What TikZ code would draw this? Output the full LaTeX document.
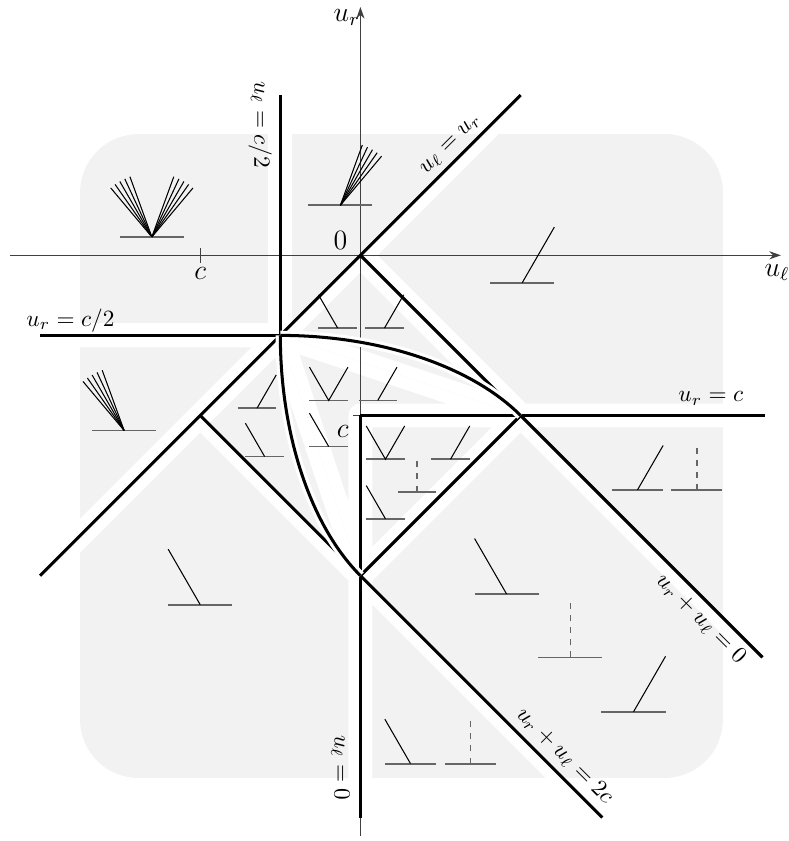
\documentclass[tikz,border=0pt]{standalone}
\usetikzlibrary{arrows.meta}
\newcommand\zone[1]{\begin{scope}\clip #1 -- cycle; \fill[gray!10] (-6,-10) rectangle (7,4); \draw[white, line width=10.3pt, line join=round] #1 -- cycle;\end{scope}}
\begin{document}
\begin{tikzpicture}[x=34.4pt,y=34.4pt,
  axisline/.style={black!75, line width=0.5pt},
  wall/.style={black, line width=1.3pt},
  casing/.style={white, line width=4pt},
  baseL/.style={black!60, line width=0.8pt},
  strk/.style={black, line width=0.45pt},
  dsh/.style={black!60, line width=0.7pt, dash pattern=on 2.6pt off 2.6pt},
  lbl/.style={inner sep=1pt},
  pics/shock/.style={code={\draw[baseL] (-0.4,0)--(0.4,0); \draw[strk] (0,0)--++(#1:0.8);}},
  pics/fan/.style={code={\draw[baseL] (-0.4,0)--(0.4,0); \foreach \a in {0,5,...,20}{\draw[strk] (0,0)--++(#1+\a:0.8);}}},
  pics/contact/.style={code={\draw[baseL] (-0.4,0)--(0.4,0); \draw[dsh] (0,0)--(0,0.75);}},
  pics/vee/.style={code={\draw[baseL] (-0.4,0)--(0.4,0); \draw[strk] (120:0.8)--(0,0)--(60:0.8);}}
]
\useasboundingbox (-4.5,-7.3125) rectangle (5.35,3.1875);
% shaded regions, each inset by a white border
\begin{scope}
\clip[rounded corners=25pt] (-3.5,-6.525) rectangle (4.525,1.5125);
\zone{(-1,-1) -- (-1,2) -- (6,2) -- (6,-1)}
\zone{(0,0) -- (2.5,2.5) -- (6,2.5) -- (6,-2) -- (2,-2)}
\zone{(-5,-1) -- (-5,2) -- (-1,2) -- (-1,-1)}
\zone{(-5,-1) -- (-1,-1) -- (-5,-5)}
\zone{(0,0) -- (-1,-1) -- (2,-2)}
\zone{(-1,-1) -- (-2.3,-2.3) -- (-0.3,-4.3) -- (0,-4)}
\zone{(-2,-2) -- (-5,-5) -- (-5,-9) -- (0,-9) -- (0,-4)}
\zone{(-1,-1) -- (2,-2) -- (0,-2) -- (0,-4)}
\zone{(2,-2) -- (6,-2) -- (6,-6.6) -- (1.4,-2)}
\zone{(0,-2) -- (2,-2) -- (0,-4)}
\zone{(0,-4) -- (2,-2) -- (6,-6) -- (6,-9) -- (0,-9)}
\zone{(0,-4) -- (0,-9) -- (5,-9)}
\end{scope}
% axes
\coordinate (xl) at (-4.375,0);
\coordinate (xr) at (5.25,0);
\coordinate (yb) at (0,-7.25);
\coordinate (yt) at (0,3.1);
\draw[axisline, -{Stealth[length=5pt,width=3.5pt]}] (xl) -- (xr);
\draw[axisline, -{Stealth[length=5pt,width=3.5pt]}] (yb) -- (yt);
\node[lbl] (lul) at (5.2,-0.21) {\large $u_\ell$};
\node[lbl] (lur) at (-0.17,2.97) {\large $u_r$};
\node[lbl] (zero) at (-0.25,0.19) {\large $0$};
\draw[axisline] (-2,0.09) -- (-2,-0.09);
\node[lbl] (cx) at (-2,-0.23) {\large $c$};
\draw[axisline] (-0.09,-2) -- (0.09,-2);
\node[lbl] (cy) at (-0.22,-2.2) {\large $c$};
% black lines
\coordinate (O) at (0,0);
\coordinate (A) at (-1,-1);
\coordinate (B) at (2,-2);
\coordinate (C) at (0,-2);
\coordinate (D) at (0,-4);
\coordinate (E) at (-2,-2);
\draw[wall] (-1,2) -- (A);
\draw[wall] (-4,-1) -- (A);
\draw[wall] (-4,-4) -- (2,2);
\draw[wall] (O) -- (5.02,-5.02);
\draw[wall] (C) -- (5.05,-2);
\draw[wall] (C) -- (0,-7.02);
\draw[wall] (E) -- (3.02,-7.02);
\draw[wall] (D) -- (B);
\draw[casing] (A) arc[start angle=90, end angle=30, x radius=3.4641, y radius=2];
\draw[casing] (A) arc[start angle=180, end angle=240, x radius=2, y radius=3.4641];
\draw[wall] (A) arc[start angle=90, end angle=30, x radius=3.4641, y radius=2];
\draw[wall] (A) arc[start angle=180, end angle=240, x radius=2, y radius=3.4641];
% line labels
\node[lbl, rotate=-90] (l1) at (-1.25,1.63) {$u_\ell = c/2$};
\node[lbl] (l2) at (-3.62,-0.81) {$u_r = c/2$};
\node[lbl, rotate=45] (l3) at (1.13,1.38) {$u_\ell = u_r$};
\node[lbl] (l4) at (4.375,-1.79) {$u_r = c$};
\node[lbl, rotate=-45] (l5) at (4.25,-4.54) {$u_r + u_\ell = 0$};
\node[lbl, rotate=-45] (l6) at (2.55,-6.25) {$u_r + u_\ell = 2c$};
\node[lbl, rotate=-90] (l7) at (-0.25,-6.4) {$u_\ell = 0$};
% symbols, large
\pic at (-2.604,0.229) {fan=110};
\pic at (-2.604,0.229) {fan=50};
\pic at (-0.25,0.625) {fan=50};
\pic at (2.021,-0.341) {shock=60};
\pic at (-2.95,-2.1875) {fan=110};
\pic at (-2,-4.3625) {shock=120};
\pic at (1.825,-4.229) {shock=120};
\pic at (2.621,-5.021) {contact};
\pic at (3.409,-5.7) {shock=60};
% medium
\pic[scale=0.8] at (3.459,-2.929) {shock=60};
\pic[scale=0.8] at (4.2,-2.929) {contact};
\pic[scale=0.8] at (0.625,-6.346) {shock=120};
\pic[scale=0.8] at (1.375,-6.346) {contact};
% small
\pic[scale=0.6] at (-0.284,-0.909) {shock=120};
\pic[scale=0.6] at (0.3,-0.909) {shock=60};
\pic[scale=0.6] at (-1.291,-1.909) {shock=60};
\pic[scale=0.6] at (-1.196,-2.5125) {shock=120};
\pic[scale=0.6] at (-0.396,-1.8125) {vee};
\pic[scale=0.6] at (0.216,-1.8125) {shock=60};
\pic[scale=0.6] at (-0.396,-2.3875) {shock=120};
\pic[scale=0.6] at (0.3125,-2.546) {vee};
\pic[scale=0.6] at (1.125,-2.546) {shock=60};
\pic[scale=0.6] at (0.709,-2.95) {contact};
\pic[scale=0.6] at (0.3125,-3.29) {shock=120};
\end{tikzpicture}
\end{document}
